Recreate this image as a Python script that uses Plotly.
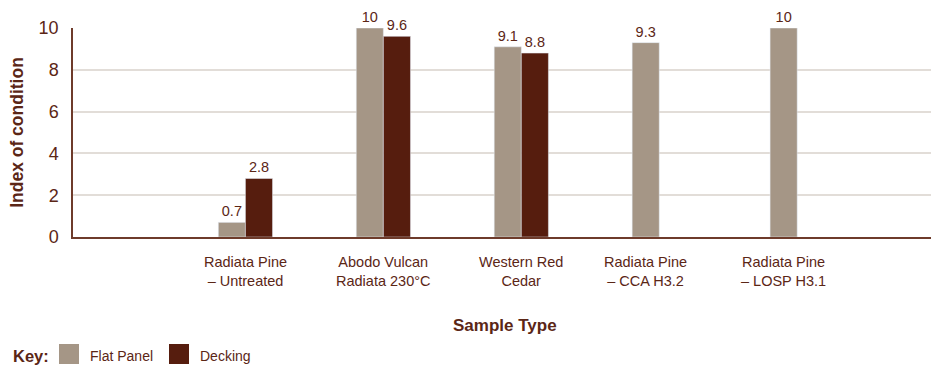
import plotly.graph_objects as go

# Condition index by sample type
categories = [
    "Radiata Pine<br>– Untreated",
    "Abodo Vulcan<br>Radiata 230°C",
    "Western Red<br>Cedar",
    "Radiata Pine<br>– CCA H3.2",
    "Radiata Pine<br>– LOSP H3.1",
]
flat_panel = [0.7, 10, 9.1, 9.3, 10]
decking = [2.8, 9.6, 8.8, None, None]
series_names = ["Flat Panel", "Decking"]
y_ticks = [0, 2, 4, 6, 8, 10]

FLAT_COLOR = "#a59686"
DECK_COLOR = "#561d0e"
TEXT_COLOR = "#5b2616"
AXIS_COLOR = "#6e3b2b"
GRID_COLOR = "#e2ddd8"
FONT = "Liberation Sans, Arial, sans-serif"

W, H = 931, 366
L, R, T, B = 73, 0, 28, 129
plot_w = W - L - R
plot_h = H - T - B


def px_x(px):
    return (px - L) / plot_w


def px_y(py):
    return (H - B - py) / plot_h


x_pos = list(range(len(categories)))
bargap = 0.607
bar_w = (1 - bargap) / 2

fig = go.Figure()
fig.add_trace(go.Bar(
    x=x_pos, y=flat_panel, name=series_names[0], marker_color=FLAT_COLOR,
    texttemplate="%{y}", textposition="outside", cliponaxis=False,
    textfont=dict(size=14.5, color=TEXT_COLOR, family=FONT),
))
fig.add_trace(go.Bar(
    x=x_pos, y=decking, name=series_names[1], marker_color=DECK_COLOR,
    texttemplate="%{y}", textposition="outside", cliponaxis=False,
    textfont=dict(size=14.5, color=TEXT_COLOR, family=FONT),
))

annotations = []
# category labels: centred on the group, or on the single bar when only one is present
for i, label in enumerate(categories):
    x = i if decking[i] is not None else i - bar_w / 2
    annotations.append(dict(
        x=x, xref="x", y=px_y(252), yref="paper", yanchor="top",
        text=label, showarrow=False,
        font=dict(size=14.5, color=TEXT_COLOR, family=FONT),
    ))

annotations.append(dict(
    x=px_x(505), xref="paper", y=px_y(325), yref="paper", yanchor="middle",
    text="<b>Sample Type</b>", showarrow=False,
    font=dict(size=17, color=TEXT_COLOR, family=FONT),
))

# key row
annotations.append(dict(
    x=px_x(11), xref="paper", xanchor="left", y=px_y(356), yref="paper",
    yanchor="middle", text="<b>Key:</b>", showarrow=False,
    font=dict(size=16.5, color=TEXT_COLOR, family=FONT),
))
shapes = []
key_items = [(series_names[0], FLAT_COLOR, 59), (series_names[1], DECK_COLOR, 169)]
for name, color, x0 in key_items:
    shapes.append(dict(
        type="rect", xref="paper", yref="paper",
        x0=px_x(x0), x1=px_x(x0 + 20), y0=px_y(364), y1=px_y(344),
        fillcolor=color, line=dict(width=0),
    ))
    annotations.append(dict(
        x=px_x(x0 + 29), xref="paper", xanchor="left", y=px_y(356), yref="paper",
        yanchor="middle", text=name, showarrow=False,
        font=dict(size=14, color=TEXT_COLOR, family=FONT),
    ))

fig.update_layout(
    width=W, height=H,
    margin=dict(l=L, r=R, t=T, b=B),
    paper_bgcolor="white", plot_bgcolor="white",
    barmode="group", bargap=bargap, bargroupgap=0,
    showlegend=False,
    font=dict(family=FONT, color=TEXT_COLOR),
    annotations=annotations, shapes=shapes,
    xaxis=dict(
        range=[-1.25, 4.97], showticklabels=False, showgrid=False,
        zeroline=False, showline=True, linecolor=AXIS_COLOR, linewidth=1.5,
        fixedrange=True,
    ),
    yaxis=dict(
        range=[0, 10], tickvals=y_ticks, showgrid=True, gridcolor=GRID_COLOR,
        gridwidth=1.5, zeroline=False, showline=True, linecolor=AXIS_COLOR,
        linewidth=1.5, ticks="", ticklabelstandoff=9,
        tickfont=dict(size=18, color=TEXT_COLOR, family=FONT),
        title=dict(text="<b>Index of condition</b>", standoff=10,
                   font=dict(size=17.5, color=TEXT_COLOR, family=FONT)),
        fixedrange=True,
    ),
)

fig.write_html("out.html")
